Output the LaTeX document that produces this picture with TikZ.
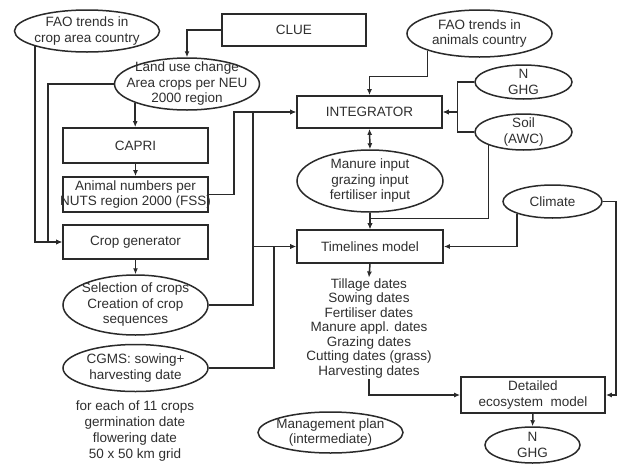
\documentclass[tikz,border=0pt]{standalone}
\usepackage{fontspec}
\setmainfont{Liberation Sans}
\usetikzlibrary{arrows.meta,shapes.geometric}
\definecolor{mgInk}{HTML}{2F2F2F}
\definecolor{mgLine}{HTML}{2A2A2A}

\begin{document}
\begin{tikzpicture}[x=1pt,y=-1pt,>={Latex[length=6pt,width=5pt]},line join=miter]
\path[fill=white] (0,0) rectangle (625,464);
\tikzset{plain/.style={text=mgInk,font=\fontsize{13.5}{15.5}\selectfont,align=center,inner sep=1pt},txt/.style={label={[plain]center:{#1}}},box/.style={draw=mgLine,line width=1.8pt,inner sep=0pt},oval/.style={ellipse,draw=mgLine,line width=1.5pt,inner sep=0pt},wire/.style={draw=mgLine,line width=1.5pt}}
% left column
\node[oval,minimum width=145,minimum height=42,txt={FAO trends in\\crop area country}] (faocrop) at (87,31) {};
\node[box,minimum width=144,minimum height=32,txt={CLUE}] (clue) at (294,30) {};
\node[oval,minimum width=145,minimum height=52,txt={Land use change\\Area crops per NEU\\2000 region}] (landuse) at (187,84) {};
\node[box,minimum width=145,minimum height=35,txt={CAPRI}] (capri) at (135.5,145.5) {};
\node[box,minimum width=145,minimum height=35,txt={Animal numbers per\\NUTS region 2000 (FSS)}] (animal) at (135.5,194.5) {};
\node[box,minimum width=145,minimum height=34,txt={Crop generator}] (cropgen) at (135.5,242) {};
\node[oval,minimum width=145,minimum height=60,txt={Selection of crops\\Creation of crop\\sequences}] (select) at (135.5,305) {};
\node[oval,minimum width=145,minimum height=47,txt={CGMS: sowing+\\harvesting date}] (cgms) at (135.5,368) {};
\node[plain,font=\fontsize{13.5}{16}\selectfont] (cgmsinfo) at (135,431) {for each of 11 crops\\germination date\\flowering date\\50 x 50 km grid};
% middle and right column
\node[oval,minimum width=145,minimum height=47,txt={FAO trends in\\animals country}] (faoanim) at (479.5,33.5) {};
\node[box,minimum width=145,minimum height=32,txt={INTEGRATOR}] (integ) at (369.5,112) {};
\node[oval,minimum width=97,minimum height=34,txt={N\\GHG}] (ntop) at (523.5,82) {};
\node[oval,minimum width=97,minimum height=36,txt={Soil\\(AWC)}] (soil) at (523.5,132) {};
\node[oval,minimum width=146,minimum height=62,txt={Manure input\\grazing input\\fertiliser input}] (manure) at (370,181) {};
\node[box,minimum width=146,minimum height=33,txt={Timelines model}] (timelines) at (370,246.5) {};
\node[oval,minimum width=99,minimum height=33,txt={Climate}] (climate) at (552.5,201.5) {};
\node[plain,font=\fontsize{13.5}{14.5}\selectfont] (dates) at (369,328.5) {Tillage dates\\Sowing dates\\Fertiliser dates\\Manure appl. dates\\Grazing dates\\Cutting dates (grass)\\Harvesting dates};
\node[box,minimum width=144,minimum height=36,txt={Detailed\\ecosystem~~model}] (detailed) at (533,395) {};
\node[oval,minimum width=95,minimum height=36,txt={N\\GHG}] (nbot) at (532.5,445) {};
\node[oval,minimum width=145,minimum height=41,txt={Management plan\\(intermediate)}] (mplan) at (330.5,432.5) {};
% connectors
\draw[wire,->] (clue.west) -| (landuse.north);
\draw[wire,->] (landuse.south west) -- (landuse.south west |- capri.north);
\draw[wire,->] (capri.south) -- (animal.north);
\draw[wire,->] (cropgen.south) -- (select.north);
\draw[wire,->] (faocrop.south west) |- (cropgen.west);
\draw[wire,->] (landuse.west) -- ++(-66,0) |- (cropgen.west);
\draw[wire,->] (animal.east) -- ++(25,0) |- (integ.west);
\draw[wire,->] (select.east) -- ++(44,0) |- (integ.west);
\draw[wire,->] (select.east) -- ++(44,0) |- (timelines.west);
\draw[wire,->] (cgms.east) -- ++(65,0) |- (timelines.west);
\draw[wire,->] (faoanim.south west) -- ++(0,26) -| (integ.north);
\draw[wire,->] (ntop.west) -- ++(-17,0) |- (integ.east);
\draw[wire,->] (soil.west) -- ++(-17,0) |- (integ.east);
\draw[wire,<->] (integ.south) -- (manure.north);
\draw[wire,->] (manure.south) -- (timelines.north);
\draw[wire,->] (soil.south west) -- ++(0,73) -| (timelines.north);
\draw[wire,->] (climate.south west) |- (timelines.east);
\draw[wire,->] (climate.east) -- ++(13,0) |- (detailed.east);
\draw[wire,->] (timelines.south) -- (dates.north);
\draw[wire,->] (dates.south) |- (detailed.west);
\draw[wire,->] (detailed.south) -- (nbot.north);
\end{tikzpicture}
\end{document}
